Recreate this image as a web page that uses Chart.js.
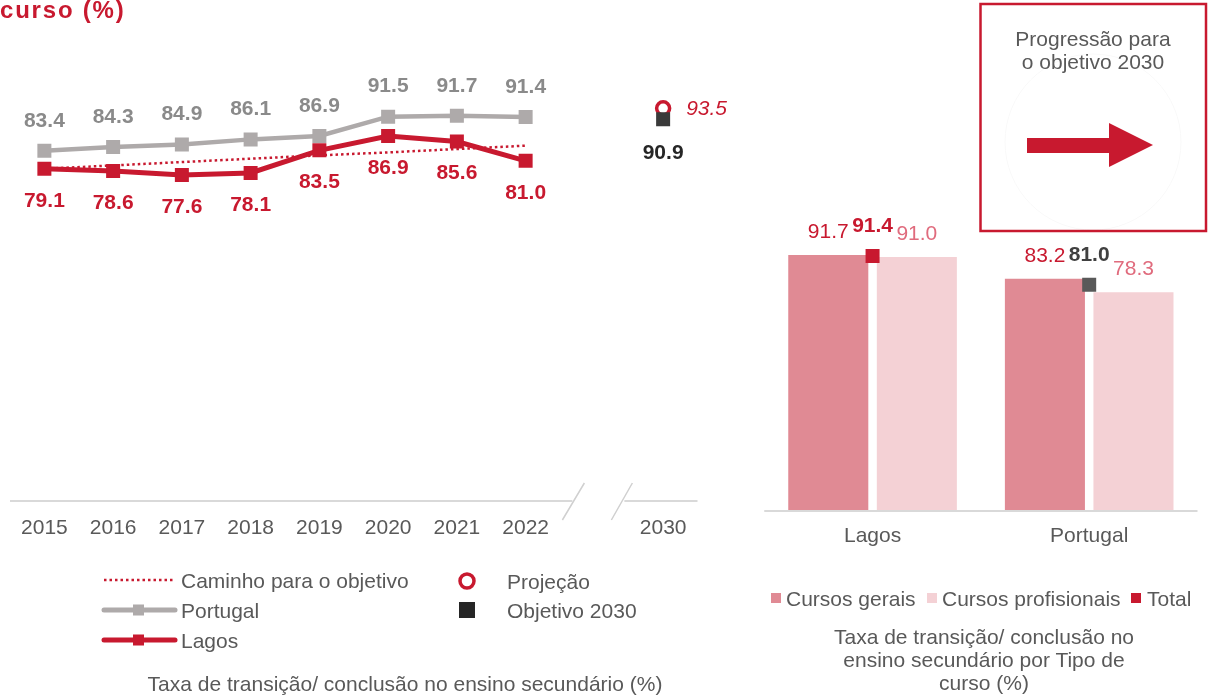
<!DOCTYPE html>
<html lang="pt">
<head>
<meta charset="utf-8">
<script src="https://cdn.jsdelivr.net/npm/chart.js@4.4.0/dist/chart.umd.min.js"></script>
<style>
    body { margin: 0; width: 1208px; height: 697px; position: relative; overflow: hidden; background: #fff; }
    canvas { position: absolute; }
    #graficoEvolucao { left: 0; top: 0; }
    #graficoTipo { left: 750px; top: 200px; }
    svg { position: absolute; left: 0; top: 0; pointer-events: none; }
    svg text { font-family: "Liberation Sans", Arial, sans-serif; font-size: 21px; fill: #595959; dominant-baseline: central; }
</style>
</head>
<body>
<canvas id="graficoEvolucao" width="760" height="560"></canvas>
<canvas id="graficoTipo" width="460" height="360"></canvas>

<svg width="1208" height="697">
    <text x="0" y="9" style="font-weight:bold;font-size:24px;letter-spacing:1.8px;fill:#c8192f">curso (%)</text>

    <!-- legenda da evolução -->
    <line x1="104" y1="580" x2="175" y2="580" stroke="#c8192f" stroke-width="2.5" stroke-dasharray="2.5 3"/>
    <text x="181" y="580">Caminho para o objetivo</text>
    <line x1="104" y1="610" x2="175" y2="610" stroke="#aeaaaa" stroke-width="5" stroke-linecap="round"/>
    <rect x="133" y="604.5" width="11" height="11" fill="#aeaaaa"/>
    <text x="181" y="610">Portugal</text>
    <line x1="104" y1="640" x2="175" y2="640" stroke="#c8192f" stroke-width="5" stroke-linecap="round"/>
    <rect x="133" y="634.5" width="11" height="11" fill="#c8192f"/>
    <text x="181" y="640">Lagos</text>
    <circle cx="467" cy="581" r="7" fill="#fff" stroke="#c8192f" stroke-width="3.5"/>
    <text x="507" y="581">Projeção</text>
    <rect x="459" y="602" width="16" height="16" fill="#262626"/>
    <text x="507" y="610">Objetivo 2030</text>
    <text x="405" y="683" text-anchor="middle">Taxa de transição/ conclusão no ensino secundário (%)</text>

    <!-- legenda por tipo de curso -->
    <rect x="771" y="593" width="10" height="10" fill="#e08a94"/>
    <text x="786" y="598">Cursos gerais</text>
    <rect x="927" y="593" width="10" height="10" fill="#f4d1d5"/>
    <text x="942" y="598">Cursos profisionais</text>
    <rect x="1131" y="593" width="10" height="10" fill="#c8192f"/>
    <text x="1147" y="598">Total</text>
    <text x="984" y="636" text-anchor="middle">Taxa de transição/ conclusão no</text>
    <text x="984" y="659" text-anchor="middle">ensino secundário por Tipo de</text>
    <text x="984" y="682" text-anchor="middle">curso (%)</text>

    <!-- caixa da progressão -->
    <circle cx="1093" cy="142" r="88" fill="none" stroke="#f9f9f9" stroke-width="1"/>
    <rect x="980.5" y="4" width="225.5" height="227" fill="none" stroke="#c8192f" stroke-width="2.5"/>
    <text x="1093" y="38" text-anchor="middle">Progressão para</text>
    <text x="1093" y="61" text-anchor="middle">o objetivo 2030</text>
    <polygon points="1027,138 1109,138 1109,123 1153,145 1109,167 1109,153 1027,153" fill="#c8192f"/>
</svg>

<script>
// evolução anual
const anos = ['2015', '2016', '2017', '2018', '2019', '2020', '2021', '2022', '', '2030'];
const portugal = [83.4, 84.3, 84.9, 86.1, 86.9, 91.5, 91.7, 91.4, null, null];
const lagos = [79.1, 78.6, 77.6, 78.1, 83.5, 86.9, 85.6, 81.0, null, null];
const caminho = [79.1, 79.9, 80.7, 81.5, 82.3, 83.0, 83.8, 84.6, null, null];
const projecao = [null, null, null, null, null, null, null, null, null, 93.5];
const objetivo = [null, null, null, null, null, null, null, null, null, 90.9];

// por tipo de curso
const locais = ['Lagos', 'Portugal'];
const cursosGerais = [91.7, 83.2];
const cursosProfissionais = [91.0, 78.3];
const totalCursos = [91.4, 81.0];

const VERMELHO = '#c8192f';
const CINZA = '#aeaaaa';
const FONTE = '"Liberation Sans", Arial, sans-serif';

Chart.defaults.font.family = FONTE;
Chart.defaults.color = '#595959';

// escreve o valor de cada ponto/barra usando o campo "rotulo" do dataset
const rotulosPlugin = {
    id: 'rotulos',
    afterDatasetsDraw(chart) {
        const ctx = chart.ctx;
        chart.data.datasets.forEach((ds, i) => {
            const r = ds.rotulo;
            if (!r) return;
            chart.getDatasetMeta(i).data.forEach((el, k) => {
                const v = ds.data[k];
                if (v == null) return;
                ctx.save();
                ctx.font = r.font;
                ctx.fillStyle = Array.isArray(r.cor) ? r.cor[k] : r.cor;
                ctx.textAlign = r.align || 'center';
                ctx.textBaseline = 'middle';
                ctx.fillText(v.toFixed(1), el.x + (r.dx || 0), el.y + r.dy);
                ctx.restore();
            });
        });
    }
};

// eixo horizontal com quebra entre 2022 e 2030
const eixoQuebrado = {
    id: 'eixoQuebrado',
    beforeDatasetsDraw(chart) {
        const {ctx, chartArea: a, scales: {x}} = chart;
        const xq = x.getPixelForValue(8);
        const y = a.bottom;
        ctx.save();
        ctx.strokeStyle = '#d9d9d9';
        ctx.lineWidth = 2;
        ctx.beginPath();
        ctx.moveTo(a.left, y);
        ctx.lineTo(xq - 22, y);
        ctx.moveTo(xq + 30, y);
        ctx.lineTo(a.right, y);
        ctx.stroke();
        ctx.strokeStyle = '#d0d0d0';
        ctx.lineWidth = 1.5;
        ctx.beginPath();
        ctx.moveTo(xq - 10, y - 18);
        ctx.lineTo(xq - 32, y + 19);
        ctx.moveTo(xq + 38, y - 18);
        ctx.lineTo(xq + 17, y + 19);
        ctx.stroke();
        ctx.restore();
    }
};

const linhaBase = {
    id: 'linhaBase',
    beforeDatasetsDraw(chart) {
        const {ctx, chartArea: a} = chart;
        ctx.save();
        ctx.strokeStyle = '#d9d9d9';
        ctx.lineWidth = 2;
        ctx.beginPath();
        ctx.moveTo(a.left, a.bottom + 1);
        ctx.lineTo(a.right, a.bottom + 1);
        ctx.stroke();
        ctx.restore();
    }
};

const chartEvolucao = new Chart(document.getElementById('graficoEvolucao').getContext('2d'), {
    type: 'line',
    data: {
        labels: anos,
        datasets: [
            {
                label: 'Objetivo 2030',
                data: objetivo,
                order: 0,
                showLine: false,
                pointStyle: 'rect',
                pointRadius: 9.9,
                pointBorderWidth: 0,
                pointBackgroundColor: '#3a3a3a',
                rotulo: {dy: 34, cor: '#262626', font: 'bold 21px ' + FONTE}
            },
            {
                label: 'Projeção',
                data: projecao,
                order: 1,
                showLine: false,
                pointStyle: 'circle',
                pointRadius: 6.5,
                pointBorderWidth: 3.5,
                pointBorderColor: VERMELHO,
                pointBackgroundColor: '#fff',
                rotulo: {dx: 23, dy: 1, align: 'left', cor: VERMELHO, font: 'italic 21px ' + FONTE}
            },
            {
                label: 'Lagos',
                data: lagos,
                order: 2,
                borderColor: VERMELHO,
                borderWidth: 5,
                pointStyle: 'rect',
                pointRadius: 9.9,
                pointBorderWidth: 0,
                pointBackgroundColor: VERMELHO,
                rotulo: {dy: 32, cor: VERMELHO, font: 'bold 21px ' + FONTE}
            },
            {
                label: 'Portugal',
                data: portugal,
                order: 3,
                borderColor: CINZA,
                borderWidth: 4.5,
                pointStyle: 'rect',
                pointRadius: 9.9,
                pointBorderWidth: 0,
                pointBackgroundColor: CINZA,
                rotulo: {dy: -30, cor: '#8a8a8a', font: 'bold 21px ' + FONTE}
            },
            {
                label: 'Caminho para o objetivo',
                data: caminho,
                order: 4,
                borderColor: VERMELHO,
                borderWidth: 2.5,
                borderDash: [2.5, 3],
                pointRadius: 0
            }
        ]
    },
    options: {
        responsive: false,
        animation: false,
        events: [],
        layout: {padding: {left: 8.5, right: 62.5, top: 81, bottom: 19}},
        plugins: {legend: {display: false}, tooltip: {enabled: false}},
        scales: {
            x: {
                offset: true,
                grid: {display: false, drawTicks: false},
                border: {display: false},
                ticks: {padding: 15, color: '#595959', font: {size: 21}, autoSkip: false, maxRotation: 0},
                afterFit: s => { s.height = 40; }
            },
            y: {display: false, min: 0, max: 100}
        }
    },
    plugins: [eixoQuebrado, rotulosPlugin]
});

const chartTipo = new Chart(document.getElementById('graficoTipo').getContext('2d'), {
    data: {
        labels: locais,
        datasets: [
            {
                type: 'line',
                label: 'Total',
                data: totalCursos,
                order: 0,
                showLine: false,
                pointStyle: 'rect',
                pointRadius: 9.9,
                pointBorderWidth: 0,
                pointBackgroundColor: [VERMELHO, '#595959'],
                rotulo: {dy: -30, cor: [VERMELHO, '#404040'], font: 'bold 21px ' + FONTE}
            },
            {
                type: 'bar',
                label: 'Cursos gerais',
                data: cursosGerais,
                order: 1,
                backgroundColor: '#e08a94',
                categoryPercentage: 0.8176,
                barPercentage: 0.904,
                rotulo: {dy: -23, cor: VERMELHO, font: '21px ' + FONTE}
            },
            {
                type: 'bar',
                label: 'Cursos profisionais',
                data: cursosProfissionais,
                order: 2,
                backgroundColor: '#f4d1d5',
                categoryPercentage: 0.8176,
                barPercentage: 0.904,
                rotulo: {dy: -23, cor: '#e06b7d', font: '21px ' + FONTE}
            }
        ]
    },
    options: {
        responsive: false,
        animation: false,
        events: [],
        layout: {padding: {left: 14.25, right: 12.5, top: 32, bottom: 10}},
        plugins: {legend: {display: false}, tooltip: {enabled: false}},
        scales: {
            x: {
                type: 'category',
                offset: true,
                grid: {display: false, drawTicks: false},
                border: {display: false},
                ticks: {padding: 14, color: '#595959', font: {size: 21}},
                afterFit: s => { s.height = 40; }
            },
            y: {display: false, min: 0, max: 100}
        }
    },
    plugins: [linhaBase, rotulosPlugin]
});
</script>
</body>
</html>
